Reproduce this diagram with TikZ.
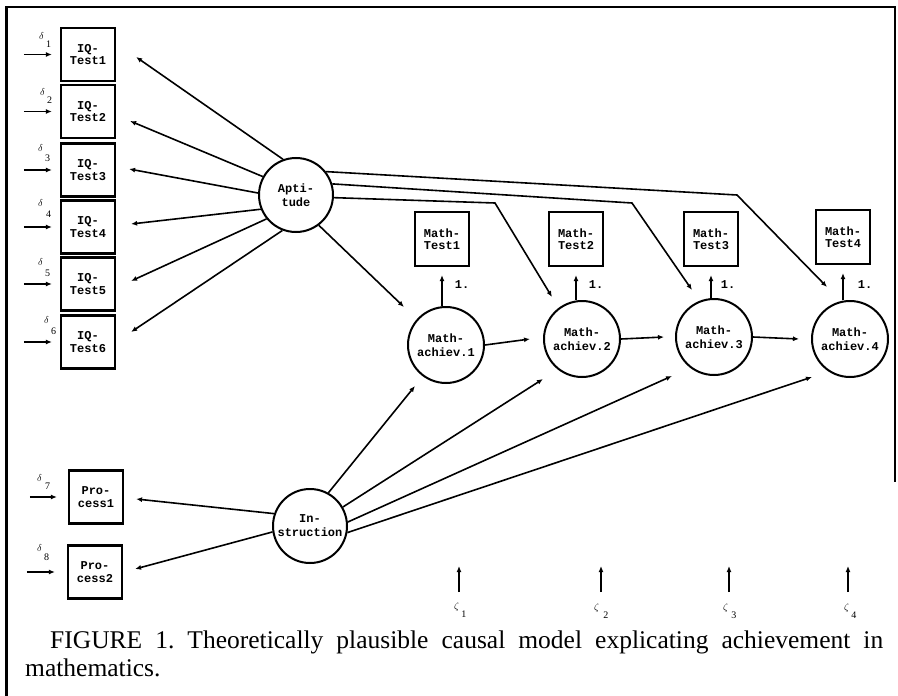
\documentclass[tikz,border=0pt]{standalone}
\usepackage{fontspec}
\setmainfont{Liberation Serif}
\setmonofont{Liberation Mono}
\usetikzlibrary{arrows.meta}
\begin{document}
\begin{tikzpicture}[x=1pt,y=-1pt,
  arr/.style={line width=1.6pt, -{Latex[length=6pt,width=5pt]}},
  obs/.style={draw, line width=2.2pt, minimum width=54pt, minimum height=53pt, inner sep=0pt, align=center, font=\ttfamily\bfseries\fontsize{12}{12.5}\selectfont},
  lat/.style={draw, circle, line width=2pt, minimum size=74pt, inner sep=0pt, align=center, font=\ttfamily\bfseries\fontsize{12}{14}\selectfont},
  lab/.style={font=\ttfamily\bfseries\fontsize{12}{12}\selectfont, inner sep=0pt},
  err/.style={font=\fontsize{10}{10}\selectfont, inner sep=0pt, anchor=base west},
  frame/.style={line width=2.6pt}]
\useasboundingbox (0,0) rectangle (898,696);
% frame
\draw[frame] (6.5,696) -- (6.5,7) -- (895,7) -- (895,482);
% IQ tests
\node[obs] (iq1) at (88,54.5) {IQ-\\Test1};
\node[obs] (iq2) at (88,111.5) {IQ-\\Test2};
\node[obs] (iq3) at (88,170) {IQ-\\Test3};
\node[obs] (iq4) at (88,227) {IQ-\\Test4};
\node[obs] (iq5) at (88,284) {IQ-\\Test5};
\node[obs] (iq6) at (88,342) {IQ-\\Test6};
\node[obs] (p1) at (96,497) {Pro-\\cess1};
\node[obs] (p2) at (95,572) {Pro-\\cess2};
% latent
\node[lat] (apt) at (296,195) {Apti-\\tude};
\node[lat] (ins) at (310,526) {In-\\struction};
\node[lat, minimum size=76pt] (m1) at (446,345) {Math-\\achiev.1};
\node[lat, minimum size=76pt] (m2) at (582,339) {Math-\\achiev.2};
\node[lat, minimum size=76pt] (m3) at (714,337) {Math-\\achiev.3};
\node[lat, minimum size=76pt] (m4) at (850,339) {Math-\\achiev.4};
% math tests
\node[obs, minimum height=54pt] (t1) at (442,239) {Math-\\Test1};
\node[obs, minimum height=54pt] (t2) at (576,239) {Math-\\Test2};
\node[obs, minimum height=54pt] (t3) at (711,239) {Math-\\Test3};
\node[obs, minimum height=54pt] (t4) at (843,237) {Math-\\Test4};
% loadings
\draw[arr] (m1.north -| t1.south) -- ([yshift=-8pt]t1.south);
\draw[arr] (m2.north -| t2.south) -- ([yshift=-8pt]t2.south);
\draw[arr] (m3.north -| t3.south) -- ([yshift=-8pt]t3.south);
\draw[arr] (m4.north -| t4.south) -- ([yshift=-8pt]t4.south);
\node[lab] (l1) at (462,285) {1.};
\node[lab] (l2) at (596,285) {1.};
\node[lab] (l3) at (728,285) {1.};
\node[lab] (l4) at (865,285) {1.};
% chain
\draw[arr] (m1.east) -- ([xshift=-13pt]m2.west);
\draw[arr] (m2.east) -- ([xshift=-11pt]m3.west);
\draw[arr] (m3.east) -- ([xshift=-12pt]m4.west);
% aptitude -> IQ tests
\draw[arr] (apt.110) -- ([shift={(20,2.5)}]iq1.east);
\draw[arr] (apt.151) -- ([shift={(14,9.5)}]iq2.east);
\draw[arr] (apt.177) -- ([shift={(13,-1)}]iq3.east);
\draw[arr] (apt.202) -- ([shift={(15,-3)}]iq4.east);
\draw[arr] (apt.219) -- ([shift={(15,-3)}]iq5.east);
\draw[arr] (apt.249) -- ([shift={(15,-10)}]iq6.east);
% aptitude -> achievement
\coordinate (b2) at (495,203);
\coordinate (b3) at (632,203);
\coordinate (b4) at (737,195);
\draw[arr] (apt.-53) -- ([shift={(-42,-38)}]m1.center);
\draw[arr] (apt.-4) -- (b2) -- ([shift={(-30,-42)}]m2.center);
\draw[arr] (apt.17) -- (b3) -- ([shift={(-22,-47)}]m3.center);
\draw[arr] (apt.38) -- (b4) -- ([shift={(-23,-52)}]m4.center);
% instruction
\draw[arr] (ins.61) -- ([shift={(-31,41)}]m1.center);
\draw[arr] (ins.30) -- ([shift={(-39,40)}]m2.center);
\draw[arr] (ins.6) -- ([shift={(-42,39)}]m3.center);
\draw[arr] (ins.-10) -- ([shift={(-38,38)}]m4.center);
\draw[arr] (ins.161) -- ([shift={(12,2)}]p1.east);
\draw[arr] (ins.189) -- ([shift={(12,-3)}]p2.east);
% error arrows
\draw[arr] ([xshift=-36pt]iq1.west) -- ([xshift=-8pt]iq1.west);
\draw[arr] ([xshift=-36pt]iq2.west) -- ([xshift=-8pt]iq2.west);
\draw[arr] ([xshift=-36pt]iq3.west) -- ([xshift=-8pt]iq3.west);
\draw[arr] ([xshift=-36pt]iq4.west) -- ([xshift=-8pt]iq4.west);
\draw[arr] ([xshift=-36pt]iq5.west) -- ([xshift=-8pt]iq5.west);
\draw[arr] ([xshift=-36pt]iq6.west) -- ([xshift=-8pt]iq6.west);
\draw[arr] ([xshift=-38pt]p1.west) -- ([xshift=-11pt]p1.west);
\draw[arr] ([xshift=-40pt]p2.west) -- ([xshift=-12pt]p2.west);
\node[err] (d1) at (39,39) {$\delta$\kern2pt\raisebox{-8pt}{1}};
\node[err] (d2) at (40,95) {$\delta$\kern2pt\raisebox{-9pt}{2}};
\node[err] (d3) at (38,151) {$\delta$\kern2pt\raisebox{-10pt}{3}};
\node[err] (d4) at (38,206) {$\delta$\kern3pt\raisebox{-11pt}{4}};
\node[err] (d5) at (38,265) {$\delta$\kern2pt\raisebox{-11pt}{5}};
\node[err] (d6) at (44,323) {$\delta$\kern2pt\raisebox{-11pt}{6}};
\node[err] (d7) at (37,481) {$\delta$\kern3pt\raisebox{-8pt}{7}};
\node[err] (d8) at (37,551) {$\delta$\kern2pt\raisebox{-9pt}{8}};
% disturbances
\node[err] (z1) at (454,609) {$\zeta$\kern2pt\raisebox{-8pt}{1}};
\node[err] (z2) at (594,610) {$\zeta$\kern4pt\raisebox{-8pt}{2}};
\node[err] (z3) at (723,610) {$\zeta$\kern3pt\raisebox{-8pt}{3}};
\node[err] (z4) at (844,610) {$\zeta$\kern2pt\raisebox{-8pt}{4}};
\coordinate (zs1) at (459,592);
\coordinate (zs2) at (601,592);
\coordinate (zs3) at (729,592);
\coordinate (zs4) at (848,592);
\draw[arr] (zs1) -- ++(0,-26);
\draw[arr] (zs2) -- ++(0,-26);
\draw[arr] (zs3) -- ++(0,-26);
\draw[arr] (zs4) -- ++(0,-26);
% caption
\node[anchor=north west, text width=858pt, align=justify, inner sep=0pt,
  font=\fontsize{25.5}{28}\selectfont\frenchspacing] (cap) at (25,631)
  {\hspace*{25pt}FIGURE 1. Theoretically plausible causal model explicating achievement in\linebreak mathematics.};
\end{tikzpicture}
\end{document}
